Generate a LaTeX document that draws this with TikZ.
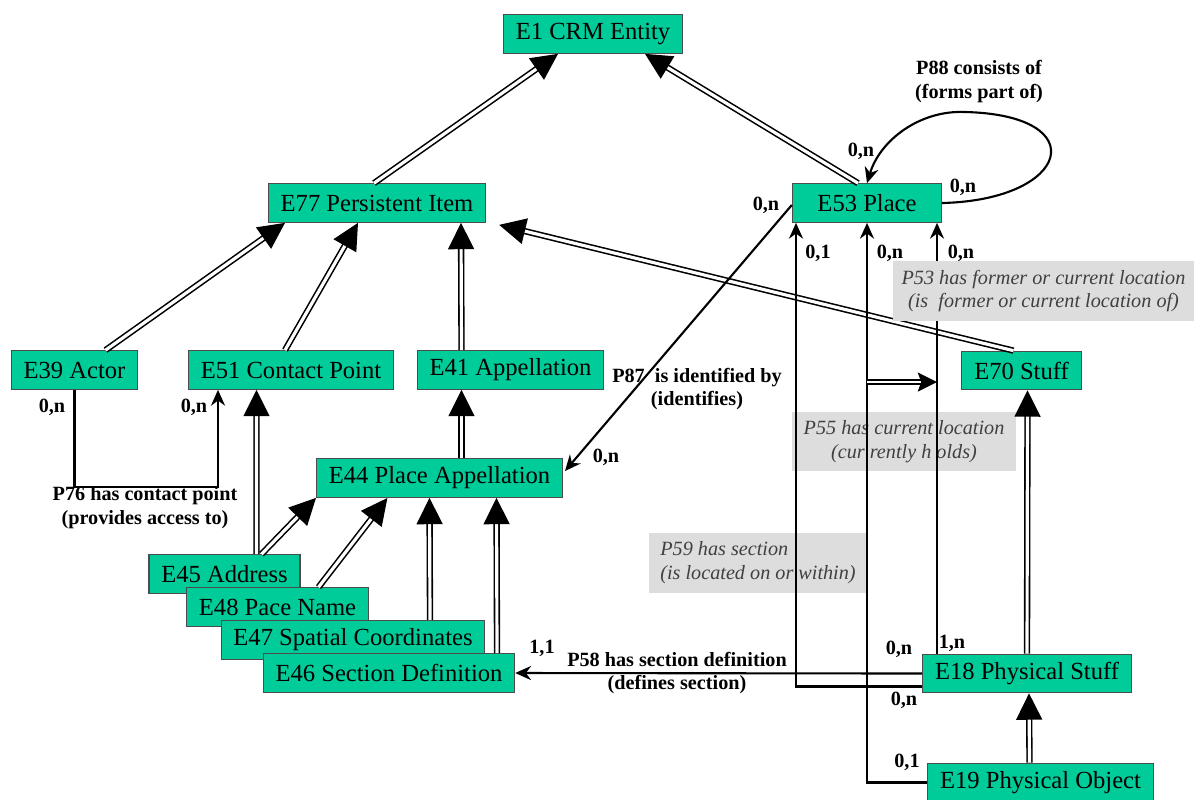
\documentclass[tikz,border=0pt]{standalone}
\usepackage{fontspec}
\setmainfont{Liberation Serif}
\usetikzlibrary{arrows.meta}
\usetikzlibrary{calc}
\usetikzlibrary{decorations.markings}

\definecolor{crmgreen}{RGB}{0,204,153}
\definecolor{notegray}{RGB}{221,221,221}
\definecolor{notetext}{RGB}{64,64,64}

\begin{document}
\begin{tikzpicture}[x=0.02cm, y=-0.02cm,
  entity/.style={draw=black!70, line width=0.6pt, fill=crmgreen, minimum height=22pt,
    inner xsep=7pt, inner ysep=0pt, font=\fontsize{14}{16}\selectfont},
  isa/.style={draw, double=white, double distance=1.8pt, line width=0.9pt, shorten >=6pt,
    postaction={decorate, decoration={markings, mark=at position 1 with
      {\fill (0,0) -- (-15pt,7.5pt) -- (-15pt,-7.5pt) -- cycle;}}}},
  subprop/.style={draw, double=white, double distance=1.6pt, line width=0.8pt, shorten >=5pt,
    postaction={decorate, decoration={markings, mark=at position 1 with
      {\fill (0,0) -- (-11pt,5.5pt) -- (-9pt,0) -- (-11pt,-5.5pt) -- cycle;}}}},
  prop/.style={draw, line width=1.2pt, -{Stealth[length=9pt, width=8pt]}},
  card/.style={font=\bfseries\fontsize{11.5}{13.6}\selectfont, inner sep=0pt},
  plabel/.style={card, align=center},
  note/.style={fill=notegray, text=notetext, inner sep=0pt,
    font=\itshape\fontsize{11.5}{13.6}\selectfont}]
\useasboundingbox (0,0) rectangle (1195,799);

% Notes under the lines
\node[note, align=center, minimum width=127pt, minimum height=33.5pt] (p55note) at (904,441.5)
  {P55 has current location\\(cur rently h olds)};
\node[note, align=left, minimum width=123.6pt, minimum height=34pt] (p59note) at (758,563)
  {P59 has section\\(is located on or within)};

% Entities
\node[entity] (e1) at (593,34) {E1 CRM Entity};
\node[entity] (e77) at (377,203) {E77 Persistent Item};
\node[entity, minimum width=85pt] (e53) at (867,203) {E53 Place};
\node[entity] (e39) at (74.5,370) {E39 Actor};
\node[entity] (e51) at (291,370) {E51 Contact Point};
\node[entity] (e41) at (510.5,370) {E41 Appellation};
\node[entity] (e70) at (1021.5,370.5) {E70 Stuff};
\node[entity] (e44) at (439.5,478) {E44 Place Appellation};
\node[entity] (e45) at (224.5,574) {E45 Address};
\node[entity] (e48) at (277.5,607) {E48 Pace Name};
\node[entity] (e47) at (353,640) {E47 Spatial Coordinates};
\node[entity] (e46) at (389,673) {E46 Section Definition};
\node[entity] (e18) at (1027,673.5) {E18 Physical Stuff};
\node[entity] (e19) at (1040.5,782.5) {E19 Physical Object};

% Is-a links
\draw[isa] ($(e77.north)+(-3,0)$) -- ($(e1.south)+(-35,0)$);
\draw[isa] ($(e53.north)+(-9,0)$) -- ($(e1.south)+(52,0)$);
\draw[isa] ($(e39.north)+(31,0)$) -- ($(e77.south)+(-92,0)$);
\draw[isa] ($(e51.north)+(-6,0)$) -- ($(e77.south)+(-19,0)$);
\draw[isa] ($(e41.north)+(-49,0)$) -- ($(e77.south)+(84,0)$);
\draw[isa] ($(e70.north)+(-8,0)$) -- ($(e77.south east)+(13,2)$);
\draw[isa] ($(e44.north)+(22,0)$) -- ($(e41.south)+(-49,0)$);
\draw[isa] ($(e45.north)+(32,0)$) -- ($(e51.south)+(-34.5,0)$);
\draw[isa] ($(e45.north)+(37,0)$) -- (e44.south west);
\draw[isa] ($(e48.north)+(41,0)$) -- ($(e44.south)+(-52,0)$);
\draw[isa] ($(e47.north)+(77,0)$) -- ($(e44.south)+(-10,0)$);
\draw[isa] ($(e46.north)+(108,0)$) -- ($(e44.south)+(57,0)$);
\draw[isa] (e18.north) -- ($(e70.south)+(6,0)$);
\draw[isa] ($(e19.north)+(-11,0)$) -- ($(e18.south)+(2,0)$);

% P76 has contact point
\draw[prop] (e39.south) -- ++(0,97) -| ($(e51.south)+(-73,0)$);
\node[card] (c76a) at (52,407) {0,n};
\node[card] (c76b) at (194,407) {0,n};
\node[plabel] (p76) at (145,508) {P76 has contact point\\(provides access to)};

% P88 consists of
\coordinate (p88top) at (965,112);
\draw[prop] (e53.east) .. controls (1070,200) and (1095,115) .. (p88top)
  .. controls (920,110) and (880,140) .. (e53.north);
\node[plabel] (p88) at (979,81.5) {P88 consists of\\(forms part of)};
\node[card] (c88a) at (861,151) {0,n};
\node[card] (c88b) at (963,187) {0,n};

% P87 is identified by
\draw[prop] ($(e53.west)+(0,2)$) -- ($(e44.east)+(2,-7)$);
\node[card] (c87a) at (766,205) {0,n};
\node[card] (c87b) at (606,457) {0,n};
\node[plabel] (p87) at (697,389) {P87~ is identified by\\(identifies)};

% P58 has section definition
\draw[prop] (e18.west) -- (e46.east);
\node[card] (c58a) at (542,648) {1,1};
\node[card] (c58b) at (899,649) {0,n};
\node[plabel] (p58) at (677,673) {P58 has section definition\\(defines section)};

% P59 has section
\draw[prop] ($(e18.west)+(0,13)$) -| ($(e53.south)+(-71,0)$);
\node[card] (c59a) at (904,700) {0,n};
\node[card] (c59b) at (818,253) {0,1};

% P53 has former or current location
\draw[prop] ($(e18.north)+(-90,0)$) -- ($(e53.south)+(70,0)$);
\node[card] (c53a) at (952,643) {1,n};
\node[card] (c53b) at (961,253) {0,n};

% P55 has current location
\draw[prop] (e19.west) -| (e53.south);
\node[card] (c55a) at (907,762) {0,1};
\node[card] (c55b) at (890,253) {0,n};

% P55 is a sub-property of P53
\coordinate (p55sub) at (867,382);
\coordinate (p53sub) at (937,382);
\draw[subprop] (p55sub) -- (p53sub);

% Note over the P53 line
\node[note, align=center, minimum width=171.8pt, minimum height=34pt] (p53note) at (1043.5,291)
  {P53 has former or current location\\(is~ former or current location of)};

\end{tikzpicture}
\end{document}
